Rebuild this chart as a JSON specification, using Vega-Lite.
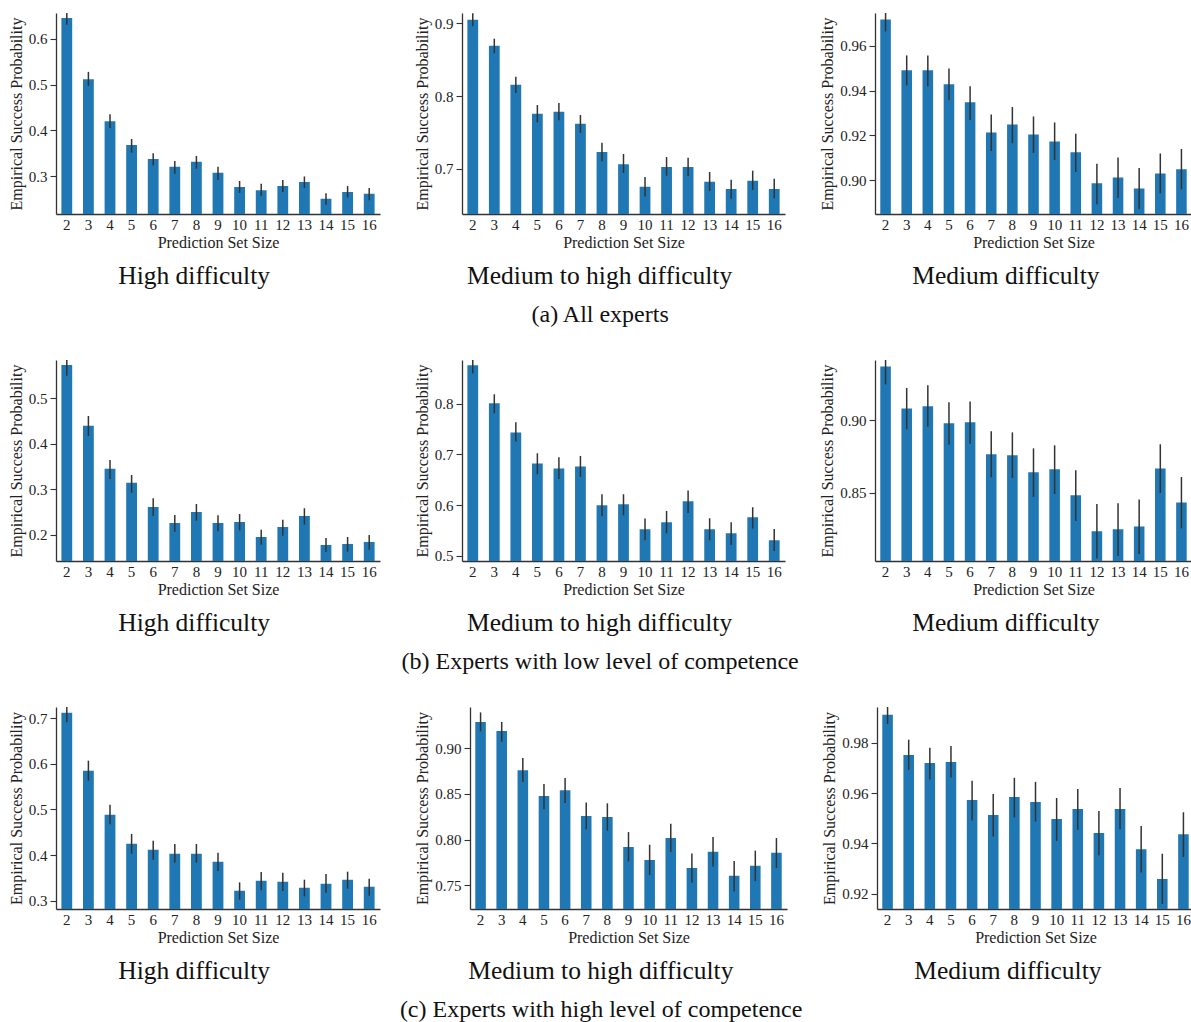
{
  "$schema": "https://vega.github.io/schema/vega-lite/v6.json",
  "padding": {"left": 8, "top": 13, "right": 0, "bottom": 0},
  "background": "white",
  "datasets": {
    "a1": [
      {"size": 2, "p": 0.646, "lo": 0.631, "hi": 0.661},
      {"size": 3, "p": 0.512, "lo": 0.497, "hi": 0.528},
      {"size": 4, "p": 0.420, "lo": 0.405, "hi": 0.435},
      {"size": 5, "p": 0.368, "lo": 0.351, "hi": 0.381},
      {"size": 6, "p": 0.337, "lo": 0.323, "hi": 0.350},
      {"size": 7, "p": 0.320, "lo": 0.305, "hi": 0.333},
      {"size": 8, "p": 0.331, "lo": 0.316, "hi": 0.344},
      {"size": 9, "p": 0.307, "lo": 0.291, "hi": 0.320},
      {"size": 10, "p": 0.276, "lo": 0.263, "hi": 0.289},
      {"size": 11, "p": 0.269, "lo": 0.256, "hi": 0.283},
      {"size": 12, "p": 0.278, "lo": 0.265, "hi": 0.291},
      {"size": 13, "p": 0.287, "lo": 0.274, "hi": 0.299},
      {"size": 14, "p": 0.250, "lo": 0.237, "hi": 0.262},
      {"size": 15, "p": 0.265, "lo": 0.253, "hi": 0.278},
      {"size": 16, "p": 0.261, "lo": 0.247, "hi": 0.274}
    ],
    "a2": [
      {"size": 2, "p": 0.9046, "lo": 0.8957, "hi": 0.9135},
      {"size": 3, "p": 0.869, "lo": 0.8586, "hi": 0.8787},
      {"size": 4, "p": 0.8156, "lo": 0.8041, "hi": 0.8265},
      {"size": 5, "p": 0.7757, "lo": 0.7638, "hi": 0.7876},
      {"size": 6, "p": 0.7785, "lo": 0.7666, "hi": 0.7904},
      {"size": 7, "p": 0.762, "lo": 0.7492, "hi": 0.7739},
      {"size": 8, "p": 0.7233, "lo": 0.7103, "hi": 0.7359},
      {"size": 9, "p": 0.7064, "lo": 0.6943, "hi": 0.7204},
      {"size": 10, "p": 0.6753, "lo": 0.6622, "hi": 0.6888},
      {"size": 11, "p": 0.7027, "lo": 0.6906, "hi": 0.7162},
      {"size": 12, "p": 0.7027, "lo": 0.6902, "hi": 0.7153},
      {"size": 13, "p": 0.6822, "lo": 0.6696, "hi": 0.6957},
      {"size": 14, "p": 0.6725, "lo": 0.659, "hi": 0.6851},
      {"size": 15, "p": 0.6835, "lo": 0.6709, "hi": 0.6975},
      {"size": 16, "p": 0.6725, "lo": 0.6595, "hi": 0.6865}
    ],
    "a3": [
      {"size": 2, "p": 0.9717, "lo": 0.9664, "hi": 0.977},
      {"size": 3, "p": 0.9491, "lo": 0.9423, "hi": 0.9557},
      {"size": 4, "p": 0.9491, "lo": 0.942, "hi": 0.9557},
      {"size": 5, "p": 0.9428, "lo": 0.9358, "hi": 0.9499},
      {"size": 6, "p": 0.9348, "lo": 0.9269, "hi": 0.9419},
      {"size": 7, "p": 0.9213, "lo": 0.9131, "hi": 0.9294},
      {"size": 8, "p": 0.9249, "lo": 0.9166, "hi": 0.9327},
      {"size": 9, "p": 0.9204, "lo": 0.9122, "hi": 0.9285},
      {"size": 10, "p": 0.9173, "lo": 0.9091, "hi": 0.9258},
      {"size": 11, "p": 0.9125, "lo": 0.9037, "hi": 0.9208},
      {"size": 12, "p": 0.8987, "lo": 0.8893, "hi": 0.9074},
      {"size": 13, "p": 0.9013, "lo": 0.8921, "hi": 0.9102},
      {"size": 14, "p": 0.8964, "lo": 0.8871, "hi": 0.9055},
      {"size": 15, "p": 0.9031, "lo": 0.8942, "hi": 0.912},
      {"size": 16, "p": 0.9049, "lo": 0.896, "hi": 0.914}
    ],
    "b1": [
      {"size": 2, "p": 0.5734, "lo": 0.55, "hi": 0.597},
      {"size": 3, "p": 0.4396, "lo": 0.4172, "hi": 0.4612},
      {"size": 4, "p": 0.3448, "lo": 0.3225, "hi": 0.3643},
      {"size": 5, "p": 0.314, "lo": 0.2924, "hi": 0.3313},
      {"size": 6, "p": 0.2611, "lo": 0.2411, "hi": 0.28},
      {"size": 7, "p": 0.2259, "lo": 0.2066, "hi": 0.2433},
      {"size": 8, "p": 0.2501, "lo": 0.2308, "hi": 0.2675},
      {"size": 9, "p": 0.2259, "lo": 0.2073, "hi": 0.2426},
      {"size": 10, "p": 0.2279, "lo": 0.2095, "hi": 0.2455},
      {"size": 11, "p": 0.1949, "lo": 0.178, "hi": 0.211},
      {"size": 12, "p": 0.2169, "lo": 0.1978, "hi": 0.233},
      {"size": 13, "p": 0.2411, "lo": 0.222, "hi": 0.258},
      {"size": 14, "p": 0.1773, "lo": 0.1618, "hi": 0.1927},
      {"size": 15, "p": 0.1795, "lo": 0.1626, "hi": 0.1949},
      {"size": 16, "p": 0.1839, "lo": 0.167, "hi": 0.1993}
    ],
    "b2": [
      {"size": 2, "p": 0.8756, "lo": 0.8592, "hi": 0.892},
      {"size": 3, "p": 0.8007, "lo": 0.781, "hi": 0.8184},
      {"size": 4, "p": 0.7433, "lo": 0.7252, "hi": 0.7633},
      {"size": 5, "p": 0.6823, "lo": 0.6609, "hi": 0.7022},
      {"size": 6, "p": 0.6724, "lo": 0.6517, "hi": 0.6944},
      {"size": 7, "p": 0.6764, "lo": 0.6556, "hi": 0.697},
      {"size": 8, "p": 0.600, "lo": 0.5781, "hi": 0.6215},
      {"size": 9, "p": 0.602, "lo": 0.5801, "hi": 0.6215},
      {"size": 10, "p": 0.5527, "lo": 0.5309, "hi": 0.5735},
      {"size": 11, "p": 0.5665, "lo": 0.5446, "hi": 0.5886},
      {"size": 12, "p": 0.6079, "lo": 0.5847, "hi": 0.6287},
      {"size": 13, "p": 0.5527, "lo": 0.5309, "hi": 0.5742},
      {"size": 14, "p": 0.5447, "lo": 0.5217, "hi": 0.5663},
      {"size": 15, "p": 0.5764, "lo": 0.5538, "hi": 0.5959},
      {"size": 16, "p": 0.5309, "lo": 0.5098, "hi": 0.5532}
    ],
    "b3": [
      {"size": 2, "p": 0.9369, "lo": 0.9245, "hi": 0.9493},
      {"size": 3, "p": 0.908, "lo": 0.8936, "hi": 0.922},
      {"size": 4, "p": 0.9094, "lo": 0.8954, "hi": 0.9239},
      {"size": 5, "p": 0.8977, "lo": 0.883, "hi": 0.9122},
      {"size": 6, "p": 0.8984, "lo": 0.8837, "hi": 0.9128},
      {"size": 7, "p": 0.8764, "lo": 0.8606, "hi": 0.8922},
      {"size": 8, "p": 0.8757, "lo": 0.8601, "hi": 0.8915},
      {"size": 9, "p": 0.864, "lo": 0.8472, "hi": 0.8805},
      {"size": 10, "p": 0.8661, "lo": 0.8491, "hi": 0.8826},
      {"size": 11, "p": 0.8482, "lo": 0.8305, "hi": 0.8654},
      {"size": 12, "p": 0.8234, "lo": 0.8048, "hi": 0.8422},
      {"size": 13, "p": 0.8248, "lo": 0.8064, "hi": 0.8427},
      {"size": 14, "p": 0.8268, "lo": 0.8078, "hi": 0.8454},
      {"size": 15, "p": 0.8667, "lo": 0.8498, "hi": 0.8833},
      {"size": 16, "p": 0.8433, "lo": 0.8255, "hi": 0.8608}
    ],
    "c1": [
      {"size": 2, "p": 0.7117, "lo": 0.6905, "hi": 0.733},
      {"size": 3, "p": 0.5847, "lo": 0.5628, "hi": 0.6066},
      {"size": 4, "p": 0.4883, "lo": 0.4672, "hi": 0.5102},
      {"size": 5, "p": 0.4248, "lo": 0.4029, "hi": 0.446},
      {"size": 6, "p": 0.4117, "lo": 0.3898, "hi": 0.4314},
      {"size": 7, "p": 0.4029, "lo": 0.3832, "hi": 0.4241},
      {"size": 8, "p": 0.4029, "lo": 0.3832, "hi": 0.4241},
      {"size": 9, "p": 0.3854, "lo": 0.365, "hi": 0.4051},
      {"size": 10, "p": 0.3219, "lo": 0.3022, "hi": 0.3401},
      {"size": 11, "p": 0.3438, "lo": 0.3226, "hi": 0.3628},
      {"size": 12, "p": 0.3416, "lo": 0.3212, "hi": 0.3613},
      {"size": 13, "p": 0.3285, "lo": 0.3095, "hi": 0.346},
      {"size": 14, "p": 0.3372, "lo": 0.3175, "hi": 0.3584},
      {"size": 15, "p": 0.346, "lo": 0.3263, "hi": 0.3635},
      {"size": 16, "p": 0.3307, "lo": 0.3109, "hi": 0.3482}
    ],
    "c2": [
      {"size": 2, "p": 0.9284, "lo": 0.9182, "hi": 0.9389},
      {"size": 3, "p": 0.9186, "lo": 0.9069, "hi": 0.9284},
      {"size": 4, "p": 0.8758, "lo": 0.8628, "hi": 0.8891},
      {"size": 5, "p": 0.8475, "lo": 0.833, "hi": 0.8607},
      {"size": 6, "p": 0.854, "lo": 0.8399, "hi": 0.8672},
      {"size": 7, "p": 0.8258, "lo": 0.8112, "hi": 0.8406},
      {"size": 8, "p": 0.8248, "lo": 0.8097, "hi": 0.8396},
      {"size": 9, "p": 0.792, "lo": 0.7762, "hi": 0.8082},
      {"size": 10, "p": 0.7778, "lo": 0.7613, "hi": 0.7944},
      {"size": 11, "p": 0.8018, "lo": 0.7864, "hi": 0.8173},
      {"size": 12, "p": 0.7691, "lo": 0.7529, "hi": 0.7849},
      {"size": 13, "p": 0.7866, "lo": 0.7704, "hi": 0.8028},
      {"size": 14, "p": 0.7604, "lo": 0.7434, "hi": 0.7766},
      {"size": 15, "p": 0.7713, "lo": 0.7547, "hi": 0.7879},
      {"size": 16, "p": 0.7855, "lo": 0.7689, "hi": 0.8017}
    ],
    "c3": [
      {"size": 2, "p": 0.9912, "lo": 0.9876, "hi": 0.9948},
      {"size": 3, "p": 0.9752, "lo": 0.9693, "hi": 0.9813},
      {"size": 4, "p": 0.972, "lo": 0.9654, "hi": 0.9781},
      {"size": 5, "p": 0.9724, "lo": 0.9662, "hi": 0.9788},
      {"size": 6, "p": 0.9573, "lo": 0.9491, "hi": 0.9649},
      {"size": 7, "p": 0.9513, "lo": 0.9428, "hi": 0.9597},
      {"size": 8, "p": 0.9585, "lo": 0.9504, "hi": 0.9661},
      {"size": 9, "p": 0.9565, "lo": 0.9487, "hi": 0.9645},
      {"size": 10, "p": 0.9497, "lo": 0.941, "hi": 0.9581},
      {"size": 11, "p": 0.9537, "lo": 0.9454, "hi": 0.9617},
      {"size": 12, "p": 0.9441, "lo": 0.9353, "hi": 0.9529},
      {"size": 13, "p": 0.9537, "lo": 0.9456, "hi": 0.9621},
      {"size": 14, "p": 0.9377, "lo": 0.9284, "hi": 0.9469},
      {"size": 15, "p": 0.9258, "lo": 0.9159, "hi": 0.9359},
      {"size": 16, "p": 0.9437, "lo": 0.9346, "hi": 0.9524}
    ]
  },
  "vconcat": [
    {
      "hconcat": [
        {
          "width": 324, "height": 201, "data": {"name": "a1"},
          "title": {"text": "High difficulty", "orient": "bottom", "anchor": "middle", "frame": "bounds", "fontSize": 25.5, "offset": 14},
          "encoding": {"x": {"field": "size", "type": "ordinal", "scale": {"paddingInner": 0.5, "paddingOuter": 0.25}, "axis": {"title": "Prediction Set Size"}}},
          "layer": [
            {"mark": {"type": "bar", "color": "#1f77b4", "clip": true}, "encoding": {"y": {"field": "p", "type": "quantitative", "scale": {"domain": [0.2168, 0.6569], "nice": false, "zero": false}, "axis": {"title": "Empirical Success Probability", "values": [0.3, 0.4, 0.5, 0.6], "format": ".1f"}}}},
            {"mark": {"type": "rule", "color": "#333333", "strokeWidth": 1.5, "clip": true}, "encoding": {"y": {"field": "lo", "type": "quantitative"}, "y2": {"field": "hi"}}}
          ]
        },
        {
          "width": 323, "height": 201, "data": {"name": "a2"},
          "title": {"text": "Medium to high difficulty", "orient": "bottom", "anchor": "middle", "frame": "bounds", "fontSize": 25.5, "offset": 14},
          "encoding": {"x": {"field": "size", "type": "ordinal", "scale": {"paddingInner": 0.5, "paddingOuter": 0.25}, "axis": {"title": "Prediction Set Size"}}},
          "layer": [
            {"mark": {"type": "bar", "color": "#1f77b4", "clip": true}, "encoding": {"y": {"field": "p", "type": "quantitative", "scale": {"domain": [0.638, 0.914], "nice": false, "zero": false}, "axis": {"title": "Empirical Success Probability", "values": [0.7, 0.8, 0.9], "format": ".1f"}}}},
            {"mark": {"type": "rule", "color": "#333333", "strokeWidth": 1.5, "clip": true}, "encoding": {"y": {"field": "lo", "type": "quantitative"}, "y2": {"field": "hi"}}}
          ]
        },
        {
          "width": 317, "height": 201, "data": {"name": "a3"},
          "title": {"text": "Medium difficulty", "orient": "bottom", "anchor": "middle", "frame": "bounds", "fontSize": 25.5, "offset": 14},
          "encoding": {"x": {"field": "size", "type": "ordinal", "scale": {"paddingInner": 0.5, "paddingOuter": 0.25}, "axis": {"title": "Prediction Set Size"}}},
          "layer": [
            {"mark": {"type": "bar", "color": "#1f77b4", "clip": true}, "encoding": {"y": {"field": "p", "type": "quantitative", "scale": {"domain": [0.885, 0.9746], "nice": false, "zero": false}, "axis": {"title": "Empirical Success Probability", "values": [0.90, 0.92, 0.94, 0.96], "format": ".2f"}}}},
            {"mark": {"type": "rule", "color": "#333333", "strokeWidth": 1.5, "clip": true}, "encoding": {"y": {"field": "lo", "type": "quantitative"}, "y2": {"field": "hi"}}}
          ]
        }
      ],
      "spacing": 34,
      "title": {"text": "(a) All experts", "orient": "bottom", "anchor": "middle", "frame": "bounds", "fontSize": 24, "offset": 13}
    },
    {
      "hconcat": [
        {
          "width": 324, "height": 201, "data": {"name": "b1"},
          "title": {"text": "High difficulty", "orient": "bottom", "anchor": "middle", "frame": "bounds", "fontSize": 25.5, "offset": 14},
          "encoding": {"x": {"field": "size", "type": "ordinal", "scale": {"paddingInner": 0.5, "paddingOuter": 0.25}, "axis": {"title": "Prediction Set Size"}}},
          "layer": [
            {"mark": {"type": "bar", "color": "#1f77b4", "clip": true}, "encoding": {"y": {"field": "p", "type": "quantitative", "scale": {"domain": [0.142, 0.5844], "nice": false, "zero": false}, "axis": {"title": "Empirical Success Probability", "values": [0.2, 0.3, 0.4, 0.5], "format": ".1f"}}}},
            {"mark": {"type": "rule", "color": "#333333", "strokeWidth": 1.5, "clip": true}, "encoding": {"y": {"field": "lo", "type": "quantitative"}, "y2": {"field": "hi"}}}
          ]
        },
        {
          "width": 323, "height": 201, "data": {"name": "b2"},
          "title": {"text": "Medium to high difficulty", "orient": "bottom", "anchor": "middle", "frame": "bounds", "fontSize": 25.5, "offset": 14},
          "encoding": {"x": {"field": "size", "type": "ordinal", "scale": {"paddingInner": 0.5, "paddingOuter": 0.25}, "axis": {"title": "Prediction Set Size"}}},
          "layer": [
            {"mark": {"type": "bar", "color": "#1f77b4", "clip": true}, "encoding": {"y": {"field": "p", "type": "quantitative", "scale": {"domain": [0.49, 0.886], "nice": false, "zero": false}, "axis": {"title": "Empirical Success Probability", "values": [0.5, 0.6, 0.7, 0.8], "format": ".1f"}}}},
            {"mark": {"type": "rule", "color": "#333333", "strokeWidth": 1.5, "clip": true}, "encoding": {"y": {"field": "lo", "type": "quantitative"}, "y2": {"field": "hi"}}}
          ]
        },
        {
          "width": 317, "height": 201, "data": {"name": "b3"},
          "title": {"text": "Medium difficulty", "orient": "bottom", "anchor": "middle", "frame": "bounds", "fontSize": 25.5, "offset": 14},
          "encoding": {"x": {"field": "size", "type": "ordinal", "scale": {"paddingInner": 0.5, "paddingOuter": 0.25}, "axis": {"title": "Prediction Set Size"}}},
          "layer": [
            {"mark": {"type": "bar", "color": "#1f77b4", "clip": true}, "encoding": {"y": {"field": "p", "type": "quantitative", "scale": {"domain": [0.803, 0.9413], "nice": false, "zero": false}, "axis": {"title": "Empirical Success Probability", "values": [0.85, 0.90], "format": ".2f"}}}},
            {"mark": {"type": "rule", "color": "#333333", "strokeWidth": 1.5, "clip": true}, "encoding": {"y": {"field": "lo", "type": "quantitative"}, "y2": {"field": "hi"}}}
          ]
        }
      ],
      "spacing": 34,
      "title": {"text": "(b) Experts with low level of competence", "orient": "bottom", "anchor": "middle", "frame": "bounds", "fontSize": 24, "offset": 13}
    },
    {
      "hconcat": [
        {
          "width": 324, "height": 202, "data": {"name": "c1"},
          "title": {"text": "High difficulty", "orient": "bottom", "anchor": "middle", "frame": "bounds", "fontSize": 25.5, "offset": 14},
          "encoding": {"x": {"field": "size", "type": "ordinal", "scale": {"paddingInner": 0.5, "paddingOuter": 0.25}, "axis": {"title": "Prediction Set Size"}}},
          "layer": [
            {"mark": {"type": "bar", "color": "#1f77b4", "clip": true}, "encoding": {"y": {"field": "p", "type": "quantitative", "scale": {"domain": [0.2818, 0.7241], "nice": false, "zero": false}, "axis": {"title": "Empirical Success Probability", "values": [0.3, 0.4, 0.5, 0.6, 0.7], "format": ".1f"}}}},
            {"mark": {"type": "rule", "color": "#333333", "strokeWidth": 1.5, "clip": true}, "encoding": {"y": {"field": "lo", "type": "quantitative"}, "y2": {"field": "hi"}}}
          ]
        },
        {
          "width": 317, "height": 202, "data": {"name": "c2"},
          "title": {"text": "Medium to high difficulty", "orient": "bottom", "anchor": "middle", "frame": "bounds", "fontSize": 25.5, "offset": 14},
          "encoding": {"x": {"field": "size", "type": "ordinal", "scale": {"paddingInner": 0.5, "paddingOuter": 0.25}, "axis": {"title": "Prediction Set Size"}}},
          "layer": [
            {"mark": {"type": "bar", "color": "#1f77b4", "clip": true}, "encoding": {"y": {"field": "p", "type": "quantitative", "scale": {"domain": [0.7242, 0.9448], "nice": false, "zero": false}, "axis": {"title": "Empirical Success Probability", "values": [0.75, 0.80, 0.85, 0.90], "format": ".2f"}}}},
            {"mark": {"type": "rule", "color": "#333333", "strokeWidth": 1.5, "clip": true}, "encoding": {"y": {"field": "lo", "type": "quantitative"}, "y2": {"field": "hi"}}}
          ]
        },
        {
          "width": 317, "height": 202, "data": {"name": "c3"},
          "title": {"text": "Medium difficulty", "orient": "bottom", "anchor": "middle", "frame": "bounds", "fontSize": 25.5, "offset": 14},
          "encoding": {"x": {"field": "size", "type": "ordinal", "scale": {"paddingInner": 0.5, "paddingOuter": 0.25}, "axis": {"title": "Prediction Set Size"}}},
          "layer": [
            {"mark": {"type": "bar", "color": "#1f77b4", "clip": true}, "encoding": {"y": {"field": "p", "type": "quantitative", "scale": {"domain": [0.9139, 0.9943], "nice": false, "zero": false}, "axis": {"title": "Empirical Success Probability", "values": [0.92, 0.94, 0.96, 0.98], "format": ".2f"}}}},
            {"mark": {"type": "rule", "color": "#333333", "strokeWidth": 1.5, "clip": true}, "encoding": {"y": {"field": "lo", "type": "quantitative"}, "y2": {"field": "hi"}}}
          ]
        }
      ],
      "spacing": 34,
      "title": {"text": "(c) Experts with high level of competence", "orient": "bottom", "anchor": "middle", "frame": "bounds", "fontSize": 24, "offset": 13}
    }
  ],
  "spacing": 33,
  "config": {
    "font": "Liberation Serif",
    "view": {"stroke": null},
    "axis": {
      "grid": false,
      "labelFont": "Liberation Serif",
      "titleFont": "Liberation Serif",
      "labelFontSize": 15,
      "titleFontSize": 16,
      "titleFontWeight": "normal",
      "labelColor": "#222222",
      "titleColor": "#222222",
      "domainColor": "#333333",
      "domainWidth": 1.3,
      "tickColor": "#333333",
      "tickWidth": 1.1
    },
    "axisX": {"ticks": false, "labelAngle": 0, "labelPadding": 3, "titlePadding": 2},
    "axisY": {"tickSize": 6, "labelPadding": 3, "titlePadding": 4},
    "title": {"font": "Liberation Serif", "fontWeight": "normal", "color": "#111111"}
  }
}
